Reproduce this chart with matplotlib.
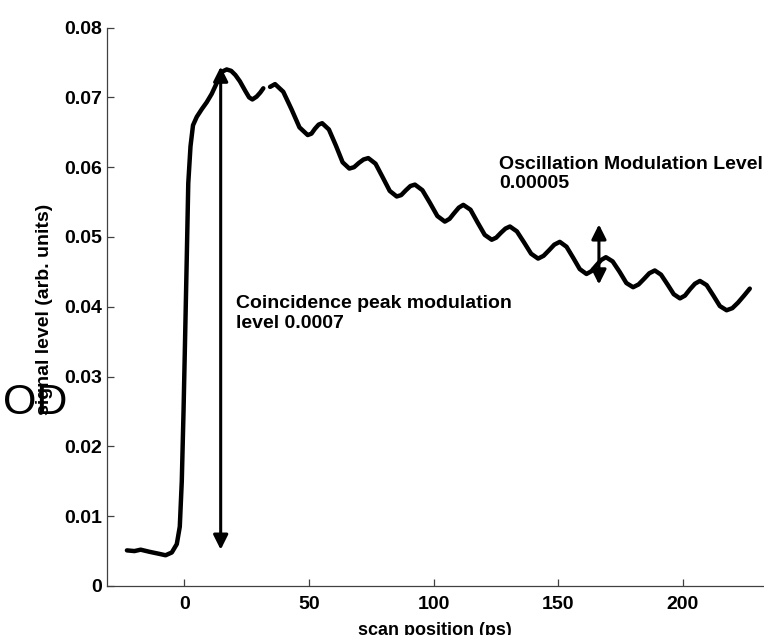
import numpy as np
import matplotlib
matplotlib.use('Agg')
import matplotlib.pyplot as plt

plt.rcParams['font.family'] = ['Liberation Sans', 'DejaVu Sans']

# curve, first part (rise up to the gap)
x1 = [-23, -20, -17.5, -14, -10, -7.5, -5, -3, -1.8, -1, -0.3, 0.3, 1.0, 1.6,
      2.5, 3.5, 5, 7, 9, 11, 13.6, 15.3, 17, 18.8, 20.5, 22.3, 24.5, 26,
      27.3, 29, 30.5, 31.7]
y1 = [0.0051, 0.0050, 0.0052, 0.0049, 0.0046, 0.0044, 0.0048, 0.0060, 0.0085,
      0.0150, 0.0250, 0.0350, 0.0470, 0.0577, 0.0630, 0.0660, 0.0672, 0.0683,
      0.0693, 0.0705, 0.0725, 0.0737, 0.0740, 0.0738, 0.0732, 0.0723, 0.0709,
      0.0700, 0.0697, 0.0701, 0.0707, 0.0713]

# curve, second part (oscillating decay)
x2 = [34.4, 36.4, 39.7, 43.0, 46.2, 49.5, 51.0, 52.4, 53.9, 55.3,
      58.0, 60.8, 63.5, 66.2, 68.1, 70.0, 71.9, 73.8,
      76.7, 79.5, 82.4, 85.2, 87.0, 88.9, 90.7, 92.5,
      95.5, 98.5, 101.5, 104.5, 106.4, 108.2, 110.1, 111.9,
      114.8, 117.6, 120.5, 123.3, 125.1, 127.0, 128.8, 130.6,
      133.4, 136.3, 139.1, 141.9, 144.1, 146.3, 148.4, 150.6,
      153.3, 156.0, 158.6, 161.3, 163.3, 165.2, 167.2, 169.1,
      171.8, 174.6, 177.3, 180.0, 182.2, 184.4, 186.5, 188.7,
      191.2, 193.8, 196.3, 198.8, 200.8, 202.8, 204.8, 206.8,
      209.5, 212.2, 214.8, 217.5, 219.8, 222.1, 224.5, 226.8]
y2 = [0.0715, 0.0719, 0.0708, 0.0683, 0.0657, 0.0646, 0.0648, 0.0655, 0.0661, 0.0663,
      0.0654, 0.0631, 0.0607, 0.0598, 0.0600, 0.0606, 0.0611, 0.0613,
      0.0605, 0.0586, 0.0566, 0.0558, 0.0560, 0.0567, 0.0573, 0.0575,
      0.0567, 0.0549, 0.0530, 0.0522, 0.0526, 0.0534, 0.0542, 0.0546,
      0.0539, 0.0521, 0.0503, 0.0496, 0.0499, 0.0506, 0.0512, 0.0515,
      0.0508, 0.0492, 0.0476, 0.0469, 0.0473, 0.0481, 0.0489, 0.0493,
      0.0486, 0.0470, 0.0454, 0.0447, 0.0451, 0.0459, 0.0467, 0.0471,
      0.0465, 0.0450, 0.0434, 0.0428, 0.0432, 0.0440, 0.0448, 0.0452,
      0.0446, 0.0432, 0.0418, 0.0412, 0.0416, 0.0425, 0.0433, 0.0437,
      0.0431, 0.0416, 0.0401, 0.0395, 0.0398, 0.0406, 0.0416, 0.0426]

# arrows: x position, bottom, top
peak_arrow = (14.6, 0.0052, 0.0744)
osc_arrow = (166.3, 0.0432, 0.0518)

xticks = [0, 50, 100, 150, 200]
yticks = [0, 0.01, 0.02, 0.03, 0.04, 0.05, 0.06, 0.07, 0.08]
ytick_labels = ['0', '0.01', '0.02', '0.03', '0.04', '0.05', '0.06', '0.07', '0.08']

fig = plt.figure(figsize=(7.64, 6.35), dpi=100)
ax = fig.add_axes([0.1397, 0.0772, 0.8603, 0.8794])

ax.plot(x1, y1, color='black', lw=3.2, solid_capstyle='round', solid_joinstyle='round')
ax.plot(x2, y2, color='black', lw=3.2, solid_capstyle='round', solid_joinstyle='round')

# flechas doble punta
for xa, yb, yt in [peak_arrow, osc_arrow]:
    ax.annotate('', xy=(xa, yt), xytext=(xa, yb),
                arrowprops=dict(arrowstyle='<|-|>', color='black', lw=2.2,
                                mutation_scale=22, shrinkA=0, shrinkB=0))

ax.text(20.7, 0.0370, 'Coincidence peak modulation\nlevel 0.0007',
        fontsize=14, fontweight='bold', va='baseline', ha='left')
ax.text(126.2, 0.0570, 'Oscillation Modulation Level\n0.00005',
        fontsize=14, fontweight='bold', va='baseline', ha='left')

ax.set_xlim(-31.1, 232.5)
ax.set_ylim(0, 0.08)
ax.set_xticks(xticks)
ax.set_yticks(yticks)
ax.set_yticklabels(ytick_labels)
for lab in ax.get_xticklabels() + ax.get_yticklabels():
    lab.set_fontweight('bold')

ax.spines['top'].set_visible(False)
ax.spines['right'].set_visible(False)
for s in ['left', 'bottom']:
    ax.spines[s].set_color('#404040')
    ax.spines[s].set_linewidth(0.9)
ax.tick_params(axis='both', direction='in', length=5, width=0.9,
               color='#404040', labelsize=14)
ax.tick_params(axis='y', pad=3.6)
ax.tick_params(axis='x', pad=7)

ax.set_xlabel('scan position (ps)', fontsize=13, fontweight='bold', labelpad=7)
ax.set_ylabel('signal level (arb. units)', fontsize=14, fontweight='bold')
ax.yaxis.set_label_coords(-0.082, 0.495)

# texto "OD" que queda debajo de la etiqueta
fig.text(3 / 764, (635 - 414) / 635, 'OD', fontsize=31, va='baseline',
         ha='left', zorder=-1,
         family=['Liberation Sans Narrow', 'Liberation Sans'])

fig.savefig('out.png', dpi=100)
